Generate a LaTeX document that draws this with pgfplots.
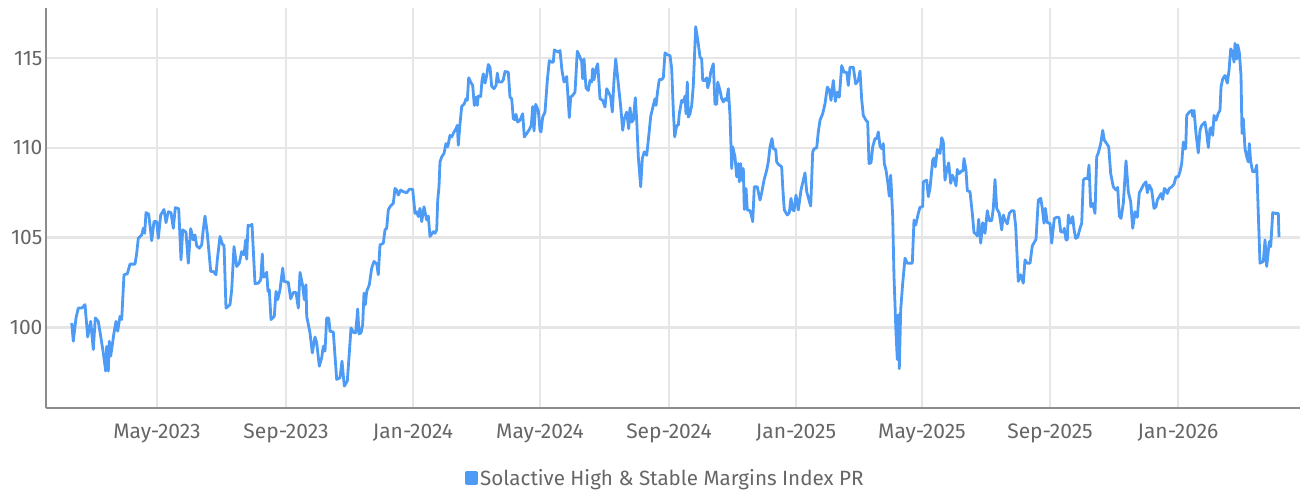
\documentclass[border=0pt]{standalone}
\usepackage{pgfplots}
\pgfplotsset{compat=1.18}
\usepackage{fontspec}
\setmainfont{Fira Sans}
\definecolor{lineblue}{HTML}{4D9BF5}
\definecolor{gridgray}{HTML}{E6E6E6}
\definecolor{axisgray}{HTML}{8C8C8C}
\definecolor{textgray}{HTML}{666666}
\begin{document}
\begin{tikzpicture}
\useasboundingbox (0pt,0pt) rectangle (1302pt,493pt);
\begin{axis}[
  at={(46pt,85pt)}, anchor=south west,
  scale only axis, width=1254pt, height=400pt,
  xmin=46, xmax=1300, ymin=95.5, ymax=117.8,
  axis lines*=left,
  axis line style={draw=axisgray, line width=2pt, -},
  xtick={157,286,413,540,669,796,922,1050,1178},
  xticklabels={May-2023,Sep-2023,Jan-2024,May-2024,Sep-2024,Jan-2025,May-2025,Sep-2025,Jan-2026},
  ytick={100,105,110,115},
  major tick length=0pt,
  xmajorgrids, ymajorgrids,
  grid style={draw=gridgray, line width=2.5pt},
  ticklabel style={font=\fontsize{21}{25}\selectfont, text=textgray},
  xticklabel style={yshift=-12pt},
  /pgf/number format/assume math mode=true,
  legend style={at={(0.494,-0.175)}, anchor=center, draw=none, fill=none,
    font=\fontsize{20.6}{24}\selectfont, text=textgray},
  legend image code/.code={\fill[lineblue] (0pt,-5.5pt) rectangle (10pt,5.5pt);},
]
\addplot[lineblue, line width=2.8pt, line join=round] table {
x y
71.7 100.24
73.3 99.22
76 100.52
78.3 101.07
81.7 101.07
85 101.26
87.7 99.46
90.7 100.33
93.3 98.76
95.3 100.52
98.3 100.33
100.7 99.50
103.3 98.57
105.7 97.56
106.7 98.94
108.3 97.56
109.3 99.22
110.7 98.39
114 99.69
116 100.33
117.7 99.78
120 100.61
121.7 100.43
124 102.93
127.3 102.98
130 103.52
135 103.52
136.7 104.13
138.3 104.96
141.7 105.15
143.3 105.52
144.7 105.24
146 106.39
148.7 106.31
151.7 104.83
154 105.89
156.7 105.89
158.3 104.96
160.7 106.26
164 106.57
166 105.83
168.3 106.44
171 106.39
173.3 105.52
175.3 106.67
178.7 106.61
181 103.76
182.7 105.43
186 105.30
188.3 103.57
190.7 105.50
193.3 104.87
195 105.15
196.7 104.54
199.3 104.41
201.7 104.59
203.3 105.46
205 106.20
207.3 105.24
210.7 103.11
213.3 103.11
216 102.93
217.3 103.76
220 105.06
222.7 104.59
224 104.59
226 101.07
230 101.26
231.7 102.09
234 104.50
236.7 103.39
239.3 103.57
241.7 104.22
244 104.04
245.7 104.87
246.7 103.80
248 105.69
250 105.65
252 105.74
255 102.43
258.3 102.46
260.7 102.65
262.3 104.09
263.3 102.80
265 102.83
266.7 103.07
268 102.00
269.3 102.09
271 100.43
274.3 100.61
276 102.00
277.7 101.54
280 102.09
282.7 103.30
284 102.56
288.3 102.50
290.7 101.59
293.3 101.94
296 101.94
298.3 101.07
300 103.06
302.7 102.31
304.3 101.54
306 102.37
306.7 100.61
310 99.69
312.3 98.57
315 99.46
316.7 99.13
319.3 97.83
321.7 98.30
323.3 98.94
325 98.67
326.7 100.52
328.7 100.52
330 99.78
333.3 99.74
336.7 97.09
340 97.19
342 98.11
344.3 96.72
347.3 97.00
349.3 98.57
351 99.96
354 99.69
355.7 99.69
357.7 101.02
359 99.63
361 99.69
362.7 100.15
364 101.91
365.3 101.26
366.7 102.00
369.3 102.37
371.7 103.30
374 103.67
376.7 103.54
378.3 102.93
380 104.59
383.3 104.69
385 105.43
386.7 105.52
388.3 106.54
390 106.72
393.3 106.91
395 107.74
396.7 107.65
398.3 107.37
400.7 107.65
403.3 107.56
406.7 107.50
409.3 107.69
412.7 107.69
415 106.35
416.7 106.44
418.3 106.17
420 106.63
421.7 105.89
424 106.72
426.7 105.98
428.3 106.20
430 105.06
433.3 105.33
435 105.24
436.7 105.43
437.7 107.09
439 107.83
440 109.22
441.7 109.50
444 109.69
446 110.24
447.7 110.06
450 110.70
451.7 110.61
454 110.89
456 111.07
457.3 111.26
458.3 110.15
460 111.35
461.7 112.31
464.3 112.46
466 112.74
467.3 112.65
468.7 113.91
470.7 113.67
472.7 113.48
474.3 112.37
476 112.83
477.3 112.37
478.3 112.89
480.7 112.87
482 113.76
483.3 114.13
485 113.61
486.7 114.04
488.3 114.65
490 114.50
491.7 113.43
494 113.30
496 113.48
497.3 114.17
498.7 113.67
501.7 113.67
503.3 113.80
505 114.26
508.3 114.22
510 112.83
511.7 112.74
513.3 111.63
515 111.57
516 111.87
517.7 111.44
520 111.54
522.7 111.91
524.3 110.61
526.7 110.80
529.3 111.02
531.3 111.26
532.7 112.31
534 110.94
535.7 112.43
538.3 112.09
540 110.98
541 110.89
542.7 111.72
545 112.00
547.3 113.76
549.3 114.87
551.7 114.78
553.3 114.78
554.3 115.46
556.7 115.39
558.3 115.33
560 115.43
562 114.31
564 113.67
566.7 113.98
569.3 111.69
570.7 112.83
572.7 112.93
575 113.11
577.3 115.39
580 115.06
581.7 114.78
582.7 113.85
584 114.96
586 113.35
588.3 113.20
590 113.76
591.7 113.67
592.7 114.41
594 113.80
596 114.41
597.7 114.69
600 112.74
602.7 112.65
605 112.28
606.7 113.30
609.3 113.02
610.7 112.83
612.3 112.00
614 113.76
615.7 114.96
618.3 113.57
620.7 112.31
622.7 110.98
624.3 111.63
626.7 112.00
628.7 111.07
630 112.24
631.7 111.44
633.3 111.54
635.3 112.80
636.7 111.54
638.3 109.50
640.7 107.83
642.3 109.41
644.3 109.78
646.7 109.59
649 110.80
650.7 111.76
653.3 112.37
655 112.74
656 112.37
657.7 113.20
659.3 113.81
661.7 113.81
663.3 113.91
665 115.30
667.3 115.19
670 115.15
671.7 114.41
673.3 112.09
674.7 110.61
676.7 111.26
678.3 111.26
679.3 111.91
681.7 112.65
683.3 112.56
685 112.89
686 111.91
687.3 113.67
688.3 111.72
690 111.91
691.7 112.37
693.3 113.48
695.7 116.76
698.3 115.80
700 115.06
701.7 114.96
702.7 113.76
705 113.76
706.7 113.91
707.7 113.35
709.3 113.67
710.7 114.22
713.3 114.69
715 112.43
716.7 112.43
717.7 113.67
720 113.20
721.7 112.74
723.3 112.56
725 112.74
726.7 112.65
728.3 113.30
730 111.81
731 110.06
731.7 108.85
732.7 110.06
735 109.50
736.7 108.39
738.3 109.13
739.3 108.11
740.7 109.13
741.7 108.20
743.3 108.85
744.3 106.57
746 107.74
747.3 106.54
750 106.50
751.7 106.17
752.7 105.89
754.3 107.83
757.3 107.83
760 107.09
761.7 107.50
764 108.20
766.7 108.76
768.3 109.22
770 110.06
772 110.52
773.3 109.96
775.7 109.91
776.7 109.22
778.3 109.09
781.7 108.94
782.7 107.83
784.3 106.54
787.3 106.26
789.3 106.39
791 107.19
792.7 106.54
794 106.50
796 107.37
798.3 106.54
801 107.65
803.3 108.20
805 108.61
806.7 107.56
809 107.09
810.7 106.76
812.7 109.78
814.3 109.96
816.7 110.00
818.3 110.89
820 111.54
822.7 111.91
825 112.46
827.3 113.39
829.3 113.24
831 112.65
833.3 113.76
835.3 112.59
837.3 113.11
839.3 112.83
841.7 114.59
844 114.22
846.7 114.22
848.3 113.48
850 114.50
853.3 114.50
855.7 113.57
858.3 113.76
860 114.28
861.7 112.69
863.3 111.81
866 111.54
867.7 111.44
869 109.13
871 109.17
872.7 110.06
875 110.52
876.7 110.52
878.3 110.89
880 110.09
881.7 109.96
883.3 110.24
884.3 109.13
886 108.76
887.7 108.11
889.3 107.31
890.7 108.48
891.7 107.31
892.7 106.17
894 102.83
896 99.69
897.3 98.20
898.3 100.70
899.3 97.69
900.7 100.98
902.7 102.46
905 103.85
907.3 103.57
910 103.57
912.3 103.57
914 105.98
915.7 105.70
918.3 106.35
920 106.69
922.7 106.72
923.3 108.11
926.7 108.20
928.3 107.28
930 107.74
932.7 109.31
934 109.44
935.3 108.94
937.3 109.91
940 109.69
941.7 110.57
943.3 110.33
945 108.20
946.7 108.76
948.7 109.17
950.7 108.02
952.3 108.48
954 108.30
956 107.89
957.3 108.80
959 108.57
961.7 108.72
963 108.72
964 109.41
966 108.76
967.3 107.61
970 107.56
972.3 106.35
974 105.28
976 105.20
977.3 105.09
978.7 106.02
980.7 104.69
982.7 105.83
985 105.24
987.3 106.50
989.3 105.94
991.7 105.94
993.3 106.63
995 108.24
996.7 106.63
999.3 106.35
1001.7 105.43
1003.3 106.26
1005 105.98
1007.3 105.76
1009.3 106.35
1011.7 106.50
1014 106.50
1015.7 105.61
1018.3 102.56
1020.7 102.93
1023.3 102.46
1025 103.76
1027.3 103.57
1030 103.57
1032.3 104.54
1036 104.91
1038.3 107.09
1040.7 107.19
1042.3 106.63
1044 105.80
1045.3 106.63
1047.3 105.83
1050 105.80
1051.7 104.69
1054.3 106.07
1056.7 106.13
1059 106.13
1060.7 105.33
1063.3 105.30
1064.3 105.52
1066 104.87
1067.3 104.87
1068.3 106.26
1070.7 105.80
1072.7 106.17
1074 105.46
1075.7 104.96
1077.7 105.02
1080 105.52
1081.7 105.80
1083.3 108.20
1085 108.30
1087.7 108.30
1089 109.04
1090.7 106.72
1092.7 106.91
1095 106.35
1096.7 109.50
1098.3 109.72
1100.7 110.24
1102.7 110.98
1104.3 110.43
1106.7 110.24
1108.7 110.06
1110.7 108.57
1113.3 107.83
1116 107.65
1117.7 107.80
1119.3 106.20
1121 106.07
1123.3 106.91
1126 109.28
1128.3 107.56
1130.7 107.00
1132.7 105.52
1135 106.44
1137.3 106.13
1139.3 107.50
1141.7 107.74
1143.3 107.93
1146 108.11
1147.3 107.50
1149.3 107.93
1151.7 107.65
1154 106.63
1156 106.72
1157.3 107.09
1159.3 107.28
1161 107.46
1162.7 107.13
1164.3 107.74
1166 107.65
1167.3 107.46
1169.3 107.74
1171.7 107.83
1174 107.98
1176 108.39
1178.3 108.39
1180 108.67
1181.7 109.13
1183.3 110.33
1184.3 109.96
1185.7 109.96
1186.7 111.81
1189.3 112.00
1191.7 112.09
1192.7 111.76
1194 112.09
1196 110.80
1198.3 109.72
1200 110.98
1201.7 111.26
1205 111.44
1206.7 110.80
1208.3 110.02
1210 111.07
1211.7 111.13
1212.7 110.70
1214 111.81
1216 111.54
1218.3 111.94
1220 112.09
1221 113.39
1222.7 113.85
1225 114.04
1227.3 113.61
1229 114.31
1230.7 115.52
1232.7 115.33
1234 114.78
1235 115.83
1236.7 114.96
1237.7 115.74
1239.3 115.33
1241 114.04
1242 110.80
1243.3 111.63
1245 109.96
1246.7 109.50
1248.3 109.22
1249.3 110.24
1250.7 109.22
1252.7 108.67
1255 108.67
1256.7 109.04
1258.3 106.35
1260 103.57
1263.3 103.67
1265 104.87
1266.7 103.39
1269.3 104.78
1270.7 104.50
1272.7 106.39
1275.3 106.35
1278.3 106.35
1279 105.02
};
\addlegendentry{Solactive High \& Stable Margins Index PR}
\end{axis}
\end{tikzpicture}
\end{document}
